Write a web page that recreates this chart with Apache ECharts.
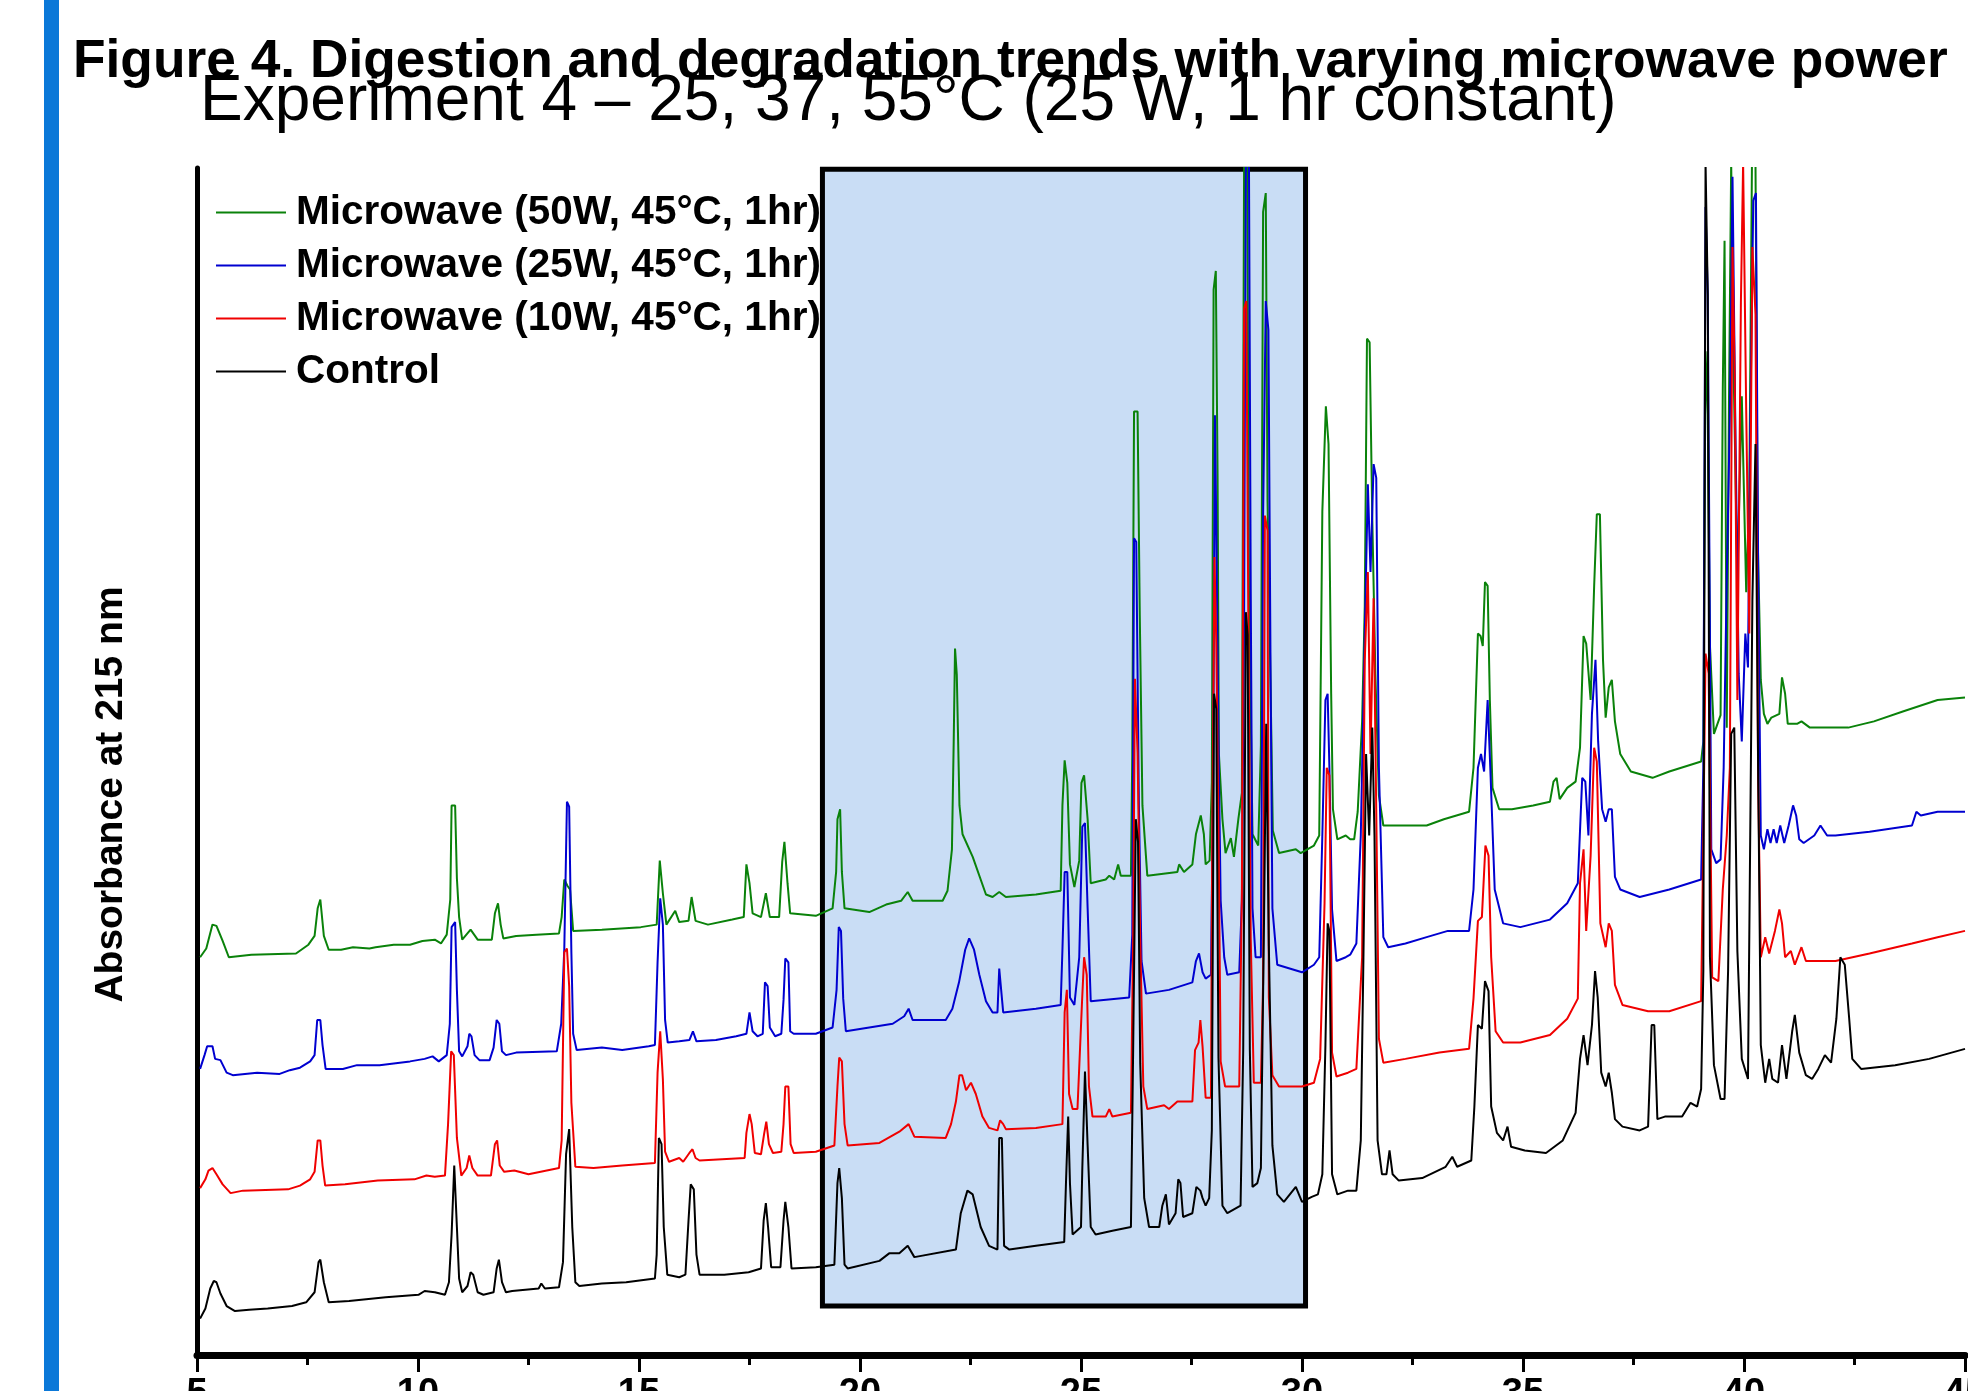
<!DOCTYPE html>
<html>
<head>
<meta charset="utf-8">
<title>Figure 4</title>
<script src="https://cdn.jsdelivr.net/npm/echarts@6/dist/echarts.min.js"></script>
<style>
  html, body { margin: 0; padding: 0; background: #fff; }
  #chart { width: 1968px; height: 1391px; }
</style>
</head>
<body>
<div id="chart"></div>
<script>
// retention time (min) and absorbance (arbitrary units, traces offset as in the figure)
var names = [ 'Microwave (50W, 45°C, 1hr)', 'Microwave (25W, 45°C, 1hr)', 'Microwave (10W, 45°C, 1hr)', 'Control' ];
var colors = [ '#0a820a', '#0000d0', '#f00000', '#000000' ];
var xTicks = [ 5, 10, 15, 20, 25, 30, 35, 40, 45 ];
// highlighted region [x0, y0, x1, y1]
var boxRange = [ 19.15, 3.9, 30.08, 94.5 ];

var mw50 = [[5.07,31.7],[5.21,32.4],[5.35,34.3],[5.44,34.2],[5.58,33.0],[5.72,31.7],[6.23,31.9],[7.24,32.0],[7.52,32.7],[7.66,33.4],[7.73,35.6],[7.79,36.3],[7.87,33.4],[7.98,32.3],[8.26,32.3],[8.53,32.5],[8.9,32.4],[9.04,32.5],[9.45,32.7],[9.82,32.7],[10.1,33.0],[10.38,33.1],[10.52,32.8],[10.65,33.5],[10.73,36.3],[10.76,43.8],[10.84,43.8],[10.88,38.0],[10.93,34.9],[11.0,33.1],[11.19,33.9],[11.35,33.1],[11.67,33.1],[11.74,35.2],[11.81,36.0],[11.87,34.3],[11.93,33.2],[12.22,33.4],[12.68,33.5],[13.19,33.6],[13.25,34.9],[13.31,37.9],[13.38,37.4],[13.44,37.1],[13.51,33.8],[14.16,33.9],[15.04,34.1],[15.4,34.3],[15.47,39.4],[15.54,36.8],[15.62,34.3],[15.82,35.4],[15.91,34.5],[16.12,34.6],[16.19,36.5],[16.28,34.6],[16.56,34.3],[17.11,34.7],[17.37,34.9],[17.43,39.1],[17.5,37.6],[17.57,35.2],[17.76,34.9],[17.87,36.8],[17.96,34.9],[18.17,34.9],[18.24,39.3],[18.29,40.9],[18.36,37.6],[18.42,35.2],[19.0,35.0],
	[19.38,35.6],[19.46,38.5],[19.49,42.7],[19.55,43.5],[19.59,38.5],[19.65,35.6],[20.21,35.3],[20.59,35.9],[20.93,36.2],[21.08,36.9],[21.19,36.2],[21.87,36.2],[21.98,37.0],[22.08,40.3],[22.12,48.9],[22.15,56.3],[22.19,54.2],[22.25,43.8],[22.32,41.5],[22.55,39.7],[22.85,36.7],[23.0,36.5],[23.15,36.9],[23.3,36.5],[23.98,36.7],[24.54,37.0],[24.58,43.8],[24.63,47.4],[24.69,45.6],[24.75,39.1],[24.85,37.3],[24.96,39.4],[25.01,45.6],[25.07,46.2],[25.15,42.7],[25.22,37.6],[25.56,37.9],[25.64,38.2],[25.75,37.9],[25.84,39.1],[25.9,38.2],[26.13,38.2],[26.16,47.9],[26.2,75.2],[26.28,75.2],[26.33,58.9],[26.39,43.8],[26.5,38.2],[27.18,38.5],[27.22,39.1],[27.33,38.5],[27.52,39.1],[27.6,41.5],[27.71,43.0],[27.78,41.5],[27.82,39.1],[27.91,39.4],[27.96,45.6],[28.0,84.9],[28.05,86.4],[28.09,70.1],[28.12,47.9],[28.2,42.7],[28.27,40.0],[28.39,41.2],[28.46,39.7],[28.56,42.7],[28.64,44.8],[28.69,95],[28.76,95],[28.8,61.0],[28.88,41.5],[29.01,40.6],[29.07,48.6],[29.12,91.1],[29.18,92.6],[29.22,68.1],[29.29,53.0],[29.34,41.8],[29.48,40.0],[29.86,40.3],[29.97,40.0],
	[30.27,40.6],[30.39,41.4],[30.46,67.2],[30.54,75.6],[30.6,72.6],[30.66,52.7],[30.7,43.5],[30.8,41.1],[30.99,41.4],[31.09,41.1],[31.18,41.1],[31.26,43.3],[31.36,50.5],[31.42,59.7],[31.47,81.0],[31.53,80.7],[31.59,66.7],[31.66,54.3],[31.74,44.6],[31.84,42.2],[32.82,42.2],[33.21,42.7],[33.78,43.3],[33.88,46.8],[33.98,57.5],[34.04,57.3],[34.09,56.5],[34.14,61.6],[34.2,61.3],[34.25,52.2],[34.31,45.2],[34.46,43.5],[34.75,43.5],[35.23,43.8],[35.61,44.1],[35.69,45.7],[35.76,46.0],[35.83,44.3],[36.0,45.2],[36.19,45.7],[36.29,48.4],[36.37,57.3],[36.43,56.7],[36.53,52.2],[36.61,61.3],[36.67,67.0],[36.74,67.0],[36.81,55.4],[36.87,50.8],[36.94,53.2],[37.01,53.8],[37.08,50.5],[37.2,47.9],[37.44,46.5],[37.93,46.0],[38.31,46.5],[39.03,47.3],[39.08,48.9],[39.13,80.0],[39.18,75.0],[39.23,56.5],[39.32,49.5],[39.47,51.0],[39.52,76.9],[39.56,88.8],[39.61,50.0],[39.66,75.9],[39.71,95],[39.77,77.5],[39.85,61.8],[39.95,76.4],[39.99,76.4],[40.05,60.8],[40.12,68.9],[40.18,95],[40.26,95],[40.31,65.1],[40.38,53.8],[40.45,51.1],[40.53,50.3],[40.62,50.8],[40.8,51.1],[40.86,54.0],[40.93,52.7],[40.99,50.3],[41.2,50.3],[41.3,50.5],[41.49,50.0],[42.36,50.0],[42.94,50.5],[43.61,51.3],[44.38,52.2],[45.0,52.4]];

var mw25 = [[5.07,22.8],[5.17,23.9],[5.23,24.6],[5.35,24.6],[5.41,23.6],[5.53,23.5],[5.67,22.5],[5.81,22.3],[6.36,22.5],[6.87,22.4],[7.1,22.7],[7.33,22.9],[7.56,23.4],[7.66,23.9],[7.72,26.7],[7.79,26.7],[7.84,24.7],[7.91,22.8],[8.3,22.8],[8.62,23.1],[9.13,23.1],[9.82,23.4],[10.15,23.6],[10.33,23.8],[10.47,23.4],[10.65,23.9],[10.72,26.4],[10.76,34.1],[10.84,34.5],[10.88,29.1],[10.93,24.2],[11.0,23.8],[11.12,24.6],[11.16,25.6],[11.21,25.4],[11.28,23.9],[11.39,23.5],[11.62,23.5],[11.71,24.5],[11.78,26.7],[11.84,26.4],[11.9,24.2],[11.99,23.9],[12.22,24.1],[13.14,24.2],[13.24,26.4],[13.31,32.4],[13.37,44.1],[13.42,43.7],[13.47,32.1],[13.51,25.6],[13.59,24.3],[14.16,24.5],[14.62,24.3],[15.22,24.6],[15.36,24.7],[15.42,31.3],[15.48,36.4],[15.54,34.3],[15.59,26.7],[15.65,24.9],[15.91,25.0],[16.14,25.1],[16.22,25.8],[16.3,25.0],[16.74,25.1],[17.2,25.4],[17.43,25.6],[17.5,27.3],[17.57,25.8],[17.68,25.4],[17.8,25.6],[17.85,29.7],[17.91,29.4],[17.96,26.1],[18.08,25.4],[18.22,25.6],[18.27,28.3],[18.31,31.6],[18.38,31.3],[18.42,25.8],[18.5,25.6],[19.0,25.6],
	[19.38,26.1],[19.47,29.1],[19.52,34.1],[19.57,33.8],[19.62,28.4],[19.68,25.8],[20.21,26.1],[20.74,26.4],[21.0,27.0],[21.1,27.6],[21.19,26.7],[21.94,26.7],[22.09,27.6],[22.24,29.7],[22.38,32.3],[22.47,33.2],[22.58,32.3],[22.7,30.3],[22.85,28.2],[23.0,27.3],[23.11,27.3],[23.15,30.8],[23.19,30.8],[23.24,27.3],[23.98,27.6],[24.54,27.9],[24.58,32.3],[24.63,38.5],[24.69,38.5],[24.75,28.5],[24.85,27.9],[24.96,31.7],[25.03,42.1],[25.09,42.4],[25.15,35.6],[25.22,28.2],[26.09,28.5],[26.16,33.5],[26.2,65.1],[26.25,64.8],[26.31,43.8],[26.37,31.4],[26.47,28.8],[26.99,29.1],[27.52,29.7],[27.6,31.4],[27.67,32.0],[27.75,30.5],[27.82,30.0],[27.94,30.3],[27.99,45.6],[28.03,74.9],[28.06,66.3],[28.11,49.2],[28.16,36.2],[28.24,31.7],[28.31,30.3],[28.58,30.5],[28.64,36.2],[28.69,59.2],[28.73,95],[28.8,95],[28.84,61.0],[28.88,35.6],[28.95,31.7],[29.07,31.7],[29.12,66.9],[29.18,84.0],[29.24,81.7],[29.29,53.9],[29.33,35.6],[29.44,31.1],[30.0,30.5],
	[30.27,31.1],[30.39,31.7],[30.46,41.4],[30.53,52.2],[30.58,52.7],[30.62,46.8],[30.68,35.5],[30.78,31.4],[30.99,31.7],[31.09,31.9],[31.23,32.8],[31.33,41.4],[31.42,57.5],[31.49,69.4],[31.55,62.4],[31.62,71.0],[31.68,69.9],[31.74,46.8],[31.84,33.3],[31.95,32.5],[32.34,32.8],[32.82,33.3],[33.3,33.8],[33.78,33.8],[33.88,37.1],[33.98,46.8],[34.05,47.9],[34.12,46.5],[34.2,52.2],[34.26,46.8],[34.36,37.1],[34.55,34.4],[34.94,34.1],[35.61,34.7],[36.0,36.0],[36.24,37.6],[36.34,46.0],[36.41,45.7],[36.48,41.4],[36.56,51.1],[36.64,55.4],[36.7,48.9],[36.79,43.5],[36.87,42.5],[36.94,43.5],[37.01,43.5],[37.08,38.1],[37.2,37.1],[37.64,36.5],[38.31,37.1],[39.03,37.9],[39.08,46.8],[39.13,91.5],[39.18,84.5],[39.26,40.3],[39.37,39.2],[39.47,39.5],[39.54,46.8],[39.61,61.9],[39.68,74.8],[39.74,93.9],[39.8,75.3],[39.88,54.3],[39.95,48.9],[40.03,57.5],[40.09,54.8],[40.14,73.7],[40.21,92.0],[40.27,92.6],[40.32,62.9],[40.38,41.4],[40.45,40.3],[40.53,41.9],[40.6,40.8],[40.67,41.9],[40.74,40.8],[40.82,42.2],[40.91,40.8],[41.01,42.2],[41.11,43.8],[41.18,43.0],[41.25,41.1],[41.35,40.8],[41.59,41.4],[41.73,42.2],[41.88,41.4],[42.07,41.4],[42.84,41.7],[43.8,42.2],[43.9,43.3],[44.0,43.0],[44.38,43.3],[45.0,43.3]];

var mw10 = [[5.07,13.3],[5.19,14.0],[5.26,14.7],[5.35,14.9],[5.44,14.4],[5.58,13.6],[5.76,12.9],[6.04,13.1],[7.06,13.2],[7.33,13.5],[7.56,14.0],[7.66,14.6],[7.73,17.1],[7.79,17.1],[7.84,15.1],[7.9,13.5],[8.35,13.6],[9.09,13.9],[9.92,14.0],[10.19,14.3],[10.38,14.2],[10.61,14.3],[10.68,18.4],[10.75,24.2],[10.81,23.9],[10.88,17.3],[10.98,14.3],[11.1,14.9],[11.16,15.9],[11.23,14.9],[11.35,14.3],[11.65,14.3],[11.74,16.8],[11.79,17.1],[11.85,15.1],[11.95,14.6],[12.18,14.7],[12.5,14.4],[13.19,14.9],[13.25,17.1],[13.31,32.1],[13.37,32.4],[13.42,29.4],[13.47,20.1],[13.56,15.0],[13.97,14.9],[14.62,15.1],[15.36,15.3],[15.42,22.5],[15.48,25.8],[15.54,22.0],[15.59,16.2],[15.68,15.4],[15.91,15.7],[16.0,15.4],[16.14,16.1],[16.21,16.4],[16.28,15.7],[16.37,15.5],[17.39,15.7],[17.43,17.7],[17.5,19.2],[17.55,18.4],[17.62,16.1],[17.76,16.0],[17.83,17.6],[17.88,18.6],[17.94,16.8],[18.03,16.1],[18.22,16.2],[18.27,18.4],[18.31,21.4],[18.38,21.4],[18.43,16.8],[18.5,16.1],[19.0,16.2],
	[19.42,16.7],[19.49,21.4],[19.53,23.7],[19.59,23.4],[19.65,18.4],[19.72,16.7],[20.44,16.9],[20.89,17.8],[21.1,18.4],[21.23,17.4],[21.94,17.3],[22.06,18.4],[22.17,20.2],[22.25,22.3],[22.31,22.3],[22.4,21.1],[22.51,21.7],[22.62,20.8],[22.77,19.0],[22.92,18.1],[23.11,17.9],[23.17,18.7],[23.24,18.4],[23.3,18.0],[23.98,18.1],[24.58,18.4],[24.63,27.3],[24.68,29.1],[24.73,20.8],[24.81,19.6],[24.92,19.6],[25.02,27.9],[25.07,31.7],[25.13,30.3],[25.18,21.4],[25.26,19.0],[25.56,19.0],[25.64,19.6],[25.71,19.0],[26.13,19.3],[26.18,33.2],[26.22,53.9],[26.28,48.0],[26.34,33.2],[26.41,21.4],[26.5,19.6],[26.88,19.9],[26.99,19.6],[27.18,20.2],[27.52,20.2],[27.58,24.3],[27.66,24.9],[27.7,26.7],[27.75,24.6],[27.82,20.5],[27.94,20.5],[27.97,41.5],[28.02,63.6],[28.06,56.8],[28.11,42.1],[28.16,23.4],[28.26,21.4],[28.58,21.4],[28.64,36.8],[28.69,83.4],[28.74,84.0],[28.79,56.3],[28.84,33.2],[28.91,21.7],[29.07,21.7],[29.12,29.7],[29.16,66.9],[29.22,65.7],[29.25,28.5],[29.33,22.3],[29.48,21.4],[30.0,21.4],
	[30.27,21.7],[30.41,23.6],[30.51,36.0],[30.56,46.8],[30.62,46.2],[30.68,24.1],[30.78,22.2],[31.04,22.5],[31.23,22.8],[31.36,31.7],[31.42,55.4],[31.49,62.4],[31.55,47.9],[31.62,60.3],[31.68,43.5],[31.74,25.2],[31.84,23.3],[32.34,23.6],[33.11,24.1],[33.78,24.4],[33.88,28.4],[33.98,34.6],[34.07,34.9],[34.15,40.6],[34.22,39.8],[34.28,31.7],[34.38,25.8],[34.55,24.9],[34.94,24.9],[35.61,25.5],[36.0,26.8],[36.24,28.4],[36.29,37.6],[36.37,40.3],[36.43,33.8],[36.53,39.8],[36.61,48.4],[36.67,47.3],[36.75,34.4],[36.87,32.5],[36.94,34.4],[37.01,33.8],[37.08,29.5],[37.25,27.9],[37.83,27.4],[38.31,27.4],[39.03,28.2],[39.08,41.4],[39.13,55.9],[39.2,54.3],[39.28,30.1],[39.42,29.8],[39.52,37.1],[39.61,41.4],[39.68,46.8],[39.74,88.3],[39.79,78.0],[39.85,52.2],[39.93,83.9],[39.98,95],[40.05,75.3],[40.12,57.5],[40.19,88.3],[40.26,82.9],[40.32,45.7],[40.38,31.7],[40.48,33.3],[40.57,32.0],[40.7,33.8],[40.8,35.5],[40.86,34.4],[40.93,31.7],[41.06,32.2],[41.15,31.1],[41.3,32.5],[41.4,31.4],[42.07,31.4],[42.84,32.0],[43.8,32.8],[44.38,33.3],[45.0,33.8]];

var control = [[5.07,2.9],[5.19,3.7],[5.3,5.3],[5.38,5.9],[5.44,5.8],[5.53,4.9],[5.67,3.9],[5.86,3.5],[6.18,3.6],[6.6,3.7],[7.15,3.9],[7.47,4.2],[7.66,5.0],[7.75,7.4],[7.79,7.6],[7.87,5.8],[7.98,4.2],[8.44,4.3],[9.27,4.6],[10.01,4.8],[10.15,5.1],[10.38,5.0],[10.61,4.8],[10.7,5.8],[10.76,9.6],[10.82,15.1],[10.88,10.2],[10.93,6.1],[11.0,5.0],[11.12,5.5],[11.19,6.6],[11.25,6.4],[11.35,5.0],[11.48,4.8],[11.71,5.0],[11.78,6.9],[11.83,7.6],[11.9,5.8],[11.99,5.0],[12.13,5.1],[12.73,5.3],[12.79,5.7],[12.87,5.3],[13.19,5.4],[13.28,7.4],[13.35,16.0],[13.42,18.0],[13.49,10.2],[13.56,5.8],[13.65,5.5],[14.16,5.7],[14.71,5.8],[15.36,6.1],[15.4,8.0],[15.45,17.3],[15.51,16.8],[15.56,10.2],[15.64,6.4],[15.91,6.2],[16.05,6.4],[16.12,10.7],[16.17,13.6],[16.24,13.2],[16.3,8.0],[16.37,6.4],[16.93,6.4],[17.48,6.6],[17.76,6.9],[17.82,10.7],[17.87,12.1],[17.92,10.2],[17.99,7.0],[18.2,7.0],[18.27,10.7],[18.31,12.2],[18.38,10.2],[18.45,6.9],[19.0,7.0],
	[19.42,7.2],[19.49,13.7],[19.53,14.9],[19.59,12.5],[19.65,7.2],[19.72,6.9],[20.44,7.5],[20.66,8.1],[20.89,8.1],[21.08,8.7],[21.23,7.8],[22.17,8.4],[22.28,11.3],[22.43,13.1],[22.55,12.8],[22.73,10.2],[22.92,8.7],[23.11,8.4],[23.15,17.3],[23.21,17.3],[23.26,8.7],[23.38,8.4],[23.98,8.7],[24.62,9.0],[24.66,13.7],[24.71,19.0],[24.75,13.7],[24.81,9.6],[25.0,10.2],[25.03,14.9],[25.09,22.6],[25.15,16.7],[25.22,10.2],[25.33,9.6],[25.71,9.9],[26.13,10.2],[26.18,24.3],[26.24,42.7],[26.29,40.9],[26.34,23.2],[26.43,12.5],[26.54,10.2],[26.77,10.2],[26.84,11.9],[26.92,12.8],[26.99,10.4],[27.14,11.3],[27.2,14.0],[27.25,13.7],[27.31,11.0],[27.52,11.3],[27.61,13.4],[27.7,13.1],[27.75,12.5],[27.82,11.9],[27.9,12.5],[27.96,17.9],[28.01,52.7],[28.06,51.5],[28.11,23.7],[28.2,11.9],[28.31,11.3],[28.61,11.9],[28.67,24.3],[28.73,59.2],[28.77,57.4],[28.82,24.3],[28.88,13.4],[28.99,13.7],[29.07,14.9],[29.14,34.4],[29.19,50.3],[29.25,32.6],[29.33,16.7],[29.44,12.8],[29.59,12.2],[29.86,13.4],[30.0,12.2],
	[30.22,12.6],[30.36,12.8],[30.46,14.4],[30.53,24.7],[30.58,34.4],[30.62,33.8],[30.68,14.4],[30.8,12.8],[31.04,13.1],[31.23,13.1],[31.33,17.1],[31.39,31.7],[31.45,47.9],[31.52,41.4],[31.59,50.0],[31.64,41.4],[31.71,17.1],[31.81,14.4],[31.91,14.4],[31.98,16.3],[32.05,14.4],[32.19,13.9],[32.72,14.1],[33.25,15.0],[33.4,15.8],[33.51,15.0],[33.83,15.5],[33.9,19.8],[33.98,26.3],[34.07,26.0],[34.14,29.8],[34.22,29.0],[34.28,19.8],[34.41,17.7],[34.55,17.1],[34.65,18.2],[34.73,16.6],[35.04,16.3],[35.52,16.1],[35.9,17.1],[36.19,19.3],[36.29,23.6],[36.37,25.5],[36.46,23.1],[36.56,26.3],[36.63,30.6],[36.69,28.5],[36.77,22.5],[36.87,21.4],[36.94,22.5],[37.01,20.9],[37.08,18.8],[37.25,18.2],[37.64,17.9],[37.83,18.2],[37.91,26.3],[37.97,26.3],[38.04,18.8],[38.21,19.0],[38.6,19.0],[38.79,20.1],[38.94,19.8],[39.03,21.2],[39.08,30.6],[39.13,95],[39.18,84.5],[39.23,31.7],[39.32,23.1],[39.47,20.4],[39.56,20.4],[39.64,30.6],[39.71,49.5],[39.78,50.0],[39.85,32.2],[39.95,23.6],[40.09,22.0],[40.19,60.2],[40.26,72.6],[40.32,46.8],[40.38,24.7],[40.48,21.7],[40.57,23.6],[40.64,22.0],[40.77,21.7],[40.86,24.7],[40.96,22.0],[41.09,25.8],[41.15,27.1],[41.25,24.1],[41.4,22.3],[41.54,22.0],[41.68,22.8],[41.83,23.9],[41.97,23.3],[42.09,26.8],[42.18,31.7],[42.28,31.1],[42.38,26.8],[42.45,23.6],[42.65,22.8],[43.42,23.1],[44.19,23.6],[45.0,24.4]];

var traces = [ mw50, mw25, mw10, control ];
var font = '"Liberation Sans", Arial, sans-serif';

var chart = echarts.init(document.getElementById('chart'));

var series = [ {
	type : 'line',
	name : 'box',
	data : [],
	z : 1,
	silent : true,
	markArea : {
		silent : true,
		z : 1,
		itemStyle : {
			color : '#c9ddf5',
			borderColor : '#000',
			borderWidth : 5
		},
		data : [ [ { xAxis : boxRange[0], yAxis : boxRange[1] }, { xAxis : boxRange[2], yAxis : boxRange[3] } ] ]
	}
} ];
for (var i = 0; i < traces.length; i++) {
	series.push({
		type : 'line',
		name : names[i],
		data : traces[i],
		symbol : 'none',
		showSymbol : false,
		z : 3 + i,
		color : colors[i],
		lineStyle : {
			width : 2,
			color : colors[i]
		}
	});
}

var option = {
	animation : false,
	backgroundColor : '#fff',
	title : {
		text : 'Figure 4. Digestion and degradation trends with varying microwave power',
		left : 73,
		top : 36,
		padding : 0,
		textStyle : {
			fontFamily : font,
			fontSize : 53.3,
			fontWeight : 'bold',
			color : '#000'
		}
	},
	graphic : [ {
		type : 'rect',
		shape : { x : 44, y : 0, width : 15, height : 1391 },
		style : { fill : '#0b78d8' }
	}, {
		type : 'text',
		x : 200,
		y : 102,
		style : {
			text : 'Experiment 4 \u2013 25, 37, 55°C (25 W, 1 hr constant)',
			font : '64px ' + font,
			fill : '#000',
			verticalAlign : 'middle'
		}
	} ],
	legend : {
		data : names,
		orient : 'vertical',
		left : 216,
		top : 192,
		padding : 0,
		icon : 'rect',
		itemWidth : 70,
		itemHeight : 2,
		itemGap : 12,
		selectedMode : false,
		textStyle : {
			fontFamily : font,
			fontSize : 40.5,
			fontWeight : 'bold',
			color : '#000',
			padding : [ 0, 0, 0, 5 ]
		}
	},
	grid : {
		left : 197,
		right : 3,
		top : 168,
		bottom : 36,
		outerBoundsMode : 'none'
	},
	xAxis : {
		type : 'value',
		min : xTicks[0],
		max : xTicks[xTicks.length - 1],
		interval : 5,
		axisLine : { onZero : false, lineStyle : { color : '#000', width : 7 } },
		axisTick : { length : 17, lineStyle : { color : '#000', width : 3 } },
		minorTick : { show : true, splitNumber : 2, length : 10, lineStyle : { color : '#000', width : 3 } },
		splitLine : { show : false },
		axisLabel : {
			margin : 21,
			fontFamily : font,
			fontSize : 38,
			fontWeight : 'bold',
			color : '#000'
		}
	},
	yAxis : {
		type : 'value',
		min : 0,
		max : 94.6,
		name : 'Absorbance at 215 nm',
		nameLocation : 'middle',
		nameGap : 66,
		nameTextStyle : {
			fontFamily : font,
			fontSize : 39,
			fontWeight : 'bold',
			color : '#000',
			padding : [ 0, 66, 0, 0 ]
		},
		axisLine : { show : true, onZero : false, lineStyle : { color : '#000', width : 5 } },
		axisTick : { show : false },
		axisLabel : { show : false },
		splitLine : { show : false }
	},
	series : series
};
chart.setOption(option);

window.onresize = function() {
	chart.resize();
}
</script>
</body>
</html>
